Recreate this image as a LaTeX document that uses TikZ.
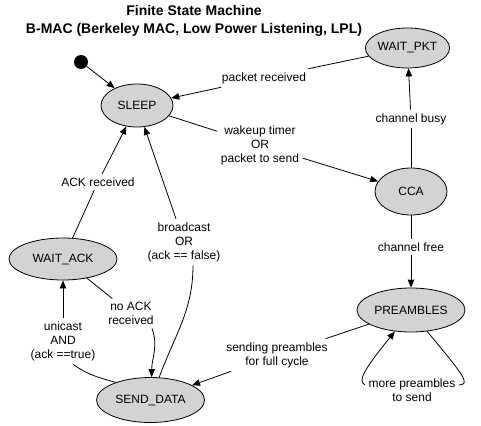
\documentclass[tikz,border=0pt]{standalone}
\usepackage{fontspec}
\setmainfont{Liberation Sans}
\usetikzlibrary{shapes.geometric,arrows.meta}
\definecolor{stategray}{HTML}{D3D3D3}
\begin{document}
\begin{tikzpicture}[x=1pt,y=-1pt,
  state/.style={ellipse,draw,fill=stategray,line width=0.8pt,inner sep=0pt,font=\fontsize{12}{14}\selectfont},
  lbl/.style={align=center,inner sep=3.5pt,font=\fontsize{12}{14}\selectfont},
  conn/.style={line width=0.8pt},
  arr/.style={conn,-{Triangle[length=8pt,width=6.5pt]}}]
\useasboundingbox (0,0) rectangle (481,425);
\node[font=\bfseries\fontsize{14}{18}\selectfont,align=center] (title) at (194,21) {Finite State Machine\\B-MAC (Berkeley MAC, Low Power Listening, LPL)};

\node[circle,fill=black,minimum size=14pt,inner sep=0pt] (start) at (81,62) {};
\node[state,minimum width=72pt,minimum height=43pt] (sleep) at (137,105.5) {SLEEP};
\node[state,minimum width=81pt,minimum height=40pt] (wpkt) at (407.5,48) {WAIT\_PKT};
\node[state,minimum width=72pt,minimum height=47pt] (cca) at (411,191.5) {CCA};
\node[state,minimum width=108pt,minimum height=44pt] (pre) at (411,310) {PREAMBLES};
\node[state,minimum width=108pt,minimum height=42pt] (wack) at (63,259) {WAIT\_ACK};
\node[state,minimum width=108pt,minimum height=45pt] (send) at (150.5,400) {SEND\_DATA};

\node[lbl] (lpr) at (264,78) {packet received};
\node[lbl] (lwk) at (260,145) {wakeup timer\\OR\\packet to send};
\node[lbl] (lbusy) at (411,119) {channel busy};
\node[lbl] (lfree) at (411,247) {channel free};
\node[lbl] (lspr) at (277,355) {sending preambles\\for full cycle};
\node[lbl] (lmore) at (412,390) {more preambles\\to send};
\node[lbl] (lbro) at (184,242) {broadcast\\OR\\(ack == false)};
\node[lbl] (luni) at (63,341) {unicast\\AND\\(ack ==true)};
\node[lbl] (lnoack) at (131,313.5) {no ACK\\received};
\node[lbl] (lack) at (98,182) {ACK received};

\draw[arr] (start) -- (sleep);
\draw[conn] (wpkt) -- (lpr);
\draw[arr] (lpr) -- (sleep);
\draw[conn] (sleep) -- (lwk);
\draw[arr] (lwk) -- (cca);
\draw[conn] (cca) -- (lbusy);
\draw[arr] (lbusy) -- (wpkt);
\draw[conn] (cca) -- (lfree);
\draw[arr] (lfree) -- (pre);
\draw[conn] (pre) -- (lspr);
\draw[arr] (lspr) -- (send);
\draw[conn] (pre.-53) .. controls (466,378) and (470,384) .. ([yshift=5pt]lmore.east);
\draw[arr] ([yshift=5pt]lmore.west) .. controls (358,381) and (362,372) .. (pre.-127);
\draw[conn] (send.69) to[out=70,in=-90] ([xshift=9pt]lbro.south);
\draw[arr] (lbro) -- (sleep);
\draw[conn] (send.153) to[out=165,in=-35] ([xshift=10pt]luni.south);
\draw[arr] (luni) -- (wack);
\draw[conn] (wack) -- (lnoack);
\draw[arr] ([xshift=21pt]lnoack.south) to[out=-70,in=90] (send.87);
\draw[conn] (wack) -- (lack);
\draw[arr] (lack) -- (sleep);
\end{tikzpicture}
\end{document}
